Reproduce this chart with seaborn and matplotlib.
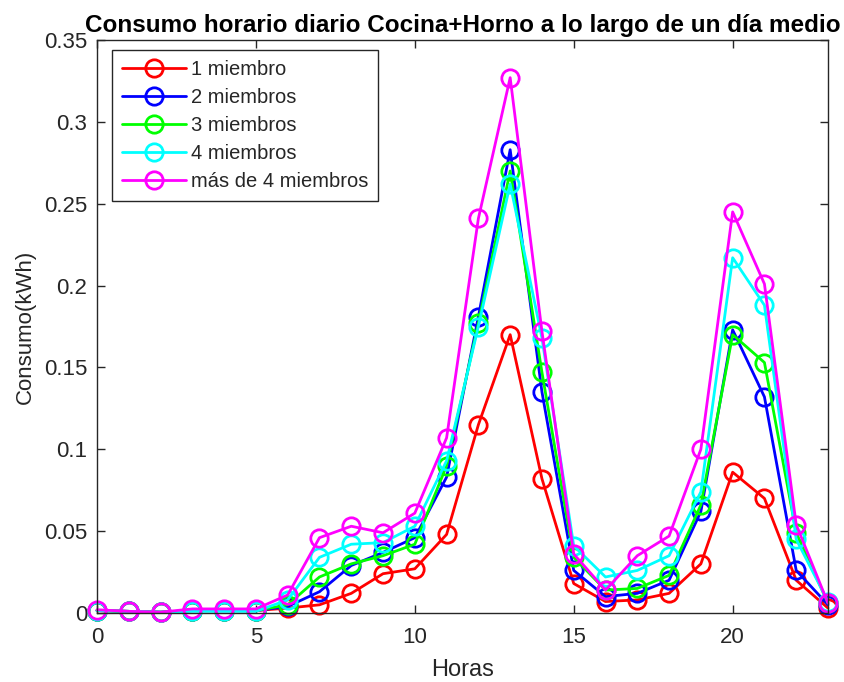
import matplotlib
matplotlib.use("Agg")
import matplotlib.pyplot as plt
from matplotlib.ticker import FuncFormatter
import seaborn as sns

hours = list(range(24))

uno = [0.0015, 0.001, 0.0005, 0.0015, 0.0015, 0.0015, 0.003, 0.005, 0.012, 0.024, 0.027, 0.048,
       0.115, 0.170, 0.082, 0.018, 0.007, 0.008, 0.012, 0.030, 0.086, 0.070, 0.020, 0.003]
dos = [0.0015, 0.001, 0.0005, 0.0015, 0.0015, 0.0015, 0.004, 0.013, 0.029, 0.037, 0.046, 0.083,
       0.181, 0.283, 0.135, 0.026, 0.010, 0.012, 0.020, 0.062, 0.173, 0.132, 0.026, 0.005]
tres = [0.0015, 0.001, 0.0005, 0.0015, 0.0015, 0.0015, 0.005, 0.022, 0.030, 0.035, 0.042, 0.090,
        0.177, 0.270, 0.147, 0.034, 0.014, 0.015, 0.023, 0.066, 0.170, 0.153, 0.049, 0.006]
cuatro = [0.0015, 0.001, 0.0005, 0.001, 0.001, 0.001, 0.008, 0.034, 0.042, 0.043, 0.053, 0.093,
          0.175, 0.262, 0.168, 0.041, 0.022, 0.026, 0.035, 0.074, 0.217, 0.188, 0.045, 0.007]
mas4 = [0.002, 0.001, 0.0005, 0.0025, 0.0025, 0.0025, 0.011, 0.046, 0.053, 0.049, 0.061, 0.107,
        0.241, 0.327, 0.172, 0.036, 0.014, 0.035, 0.047, 0.100, 0.245, 0.201, 0.054, 0.006]

labels = ["1 miembro", "2 miembros", "3 miembros", "4 miembros", "más de 4 miembros"]
colors = ["#ff0000", "#0000ff", "#00ff00", "#00ffff", "#ff00ff"]
series = [uno, dos, tres, cuatro, mas4]

sns.set_theme(style="white")
plt.rcParams["font.family"] = ["Liberation Sans", "DejaVu Sans"]

fig = plt.figure(figsize=(8.45, 6.82), dpi=100)
ax = fig.add_axes([97 / 845, 1 - 613 / 682, (828 - 97) / 845, (613 - 40) / 682])

for vals, lab, col in zip(series, labels, colors):
    sns.lineplot(x=hours, y=vals, ax=ax, color=col, label=lab, linewidth=2.0,
                 marker="o", markersize=12.5, markerfacecolor="none",
                 markeredgecolor=col, markeredgewidth=2.0, clip_on=False)

ax.set_xlim(0, 23)
ax.set_ylim(0, 0.35)
ax.set_xticks([0, 5, 10, 15, 20])
ax.set_yticks([0, 0.05, 0.1, 0.15, 0.2, 0.25, 0.3, 0.35])
ax.yaxis.set_major_formatter(FuncFormatter(lambda v, p: "%g" % round(v, 2)))

dark = "#262626"
for s in ax.spines.values():
    s.set_visible(True)
    s.set_color(dark)
    s.set_linewidth(1.0)
ax.tick_params(direction="in", length=6, width=1.0, colors=dark, labelsize=16,
               top=True, right=True, bottom=True, left=True)
ax.tick_params(axis="x", pad=10)
ax.tick_params(axis="y", pad=7)

ax.set_xlabel("Horas", fontsize=17, color=dark, labelpad=8)
ax.set_ylabel("Consumo(kWh)", fontsize=16, color=dark, labelpad=6)
ax.set_title("Consumo horario diario Cocina+Horno a lo largo de un día medio",
             fontsize=17.5, fontweight="bold", color="black", pad=6)

leg = ax.legend(loc="upper left", bbox_to_anchor=(0.0205, 0.9825), fontsize=14.5,
                frameon=True, fancybox=False, framealpha=1, edgecolor=dark,
                handlelength=3.2, borderpad=0.5, labelspacing=0.45, handletextpad=0.2,
                borderaxespad=0)
leg.get_frame().set_linewidth(1.0)

fig.savefig("out.png", dpi=100)
